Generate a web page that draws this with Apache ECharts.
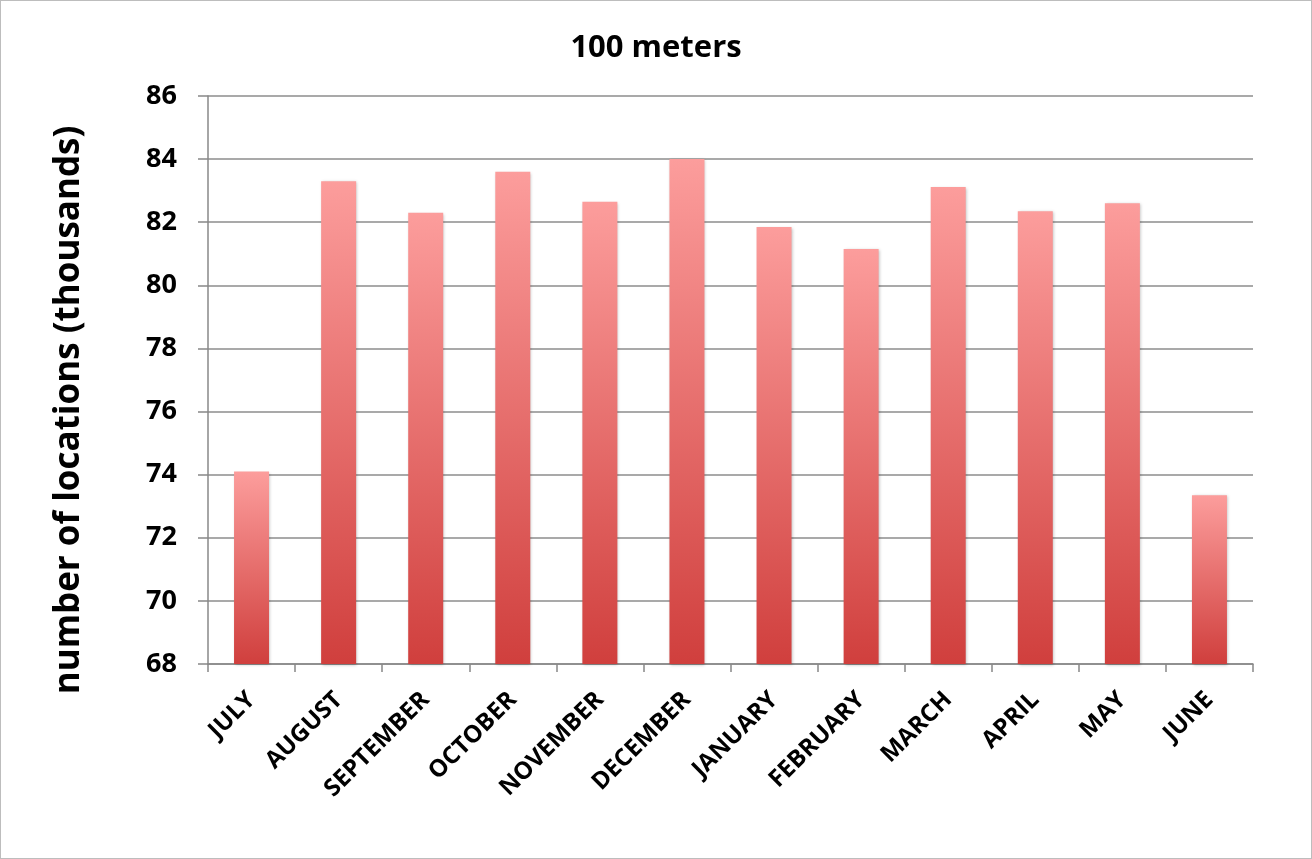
<!DOCTYPE html>
<html><head><meta charset="utf-8">
<script src="https://cdn.jsdelivr.net/npm/echarts@6/dist/echarts.min.js"></script>
<style>html,body{margin:0;padding:0;background:#fff}#c{width:1312px;height:859px;box-sizing:border-box;border:1px solid #bdbdbd}</style>
</head><body><div id="c"></div>
<script>
const categories = ['JULY','AUGUST','SEPTEMBER','OCTOBER','NOVEMBER','DECEMBER','JANUARY','FEBRUARY','MARCH','APRIL','MAY','JUNE'];
const values = [74.1, 83.3, 82.3, 83.6, 82.65, 84.0, 81.85, 81.15, 83.12, 82.35, 82.6, 73.35];
const yMin = 68, yMax = 86, yStep = 2;
const chart = echarts.init(document.getElementById('c'));
const font = '"Open Sans", "Liberation Sans", sans-serif';
chart.setOption({
  animation: false,
  title: { text: '100 meters', left: 'center', top: 27, textStyle: { fontFamily: font, fontSize: 31, fontWeight: 'bold', color: '#000' } },
  grid: { left: 207, right: 58, top: 95, bottom: 194, containLabel: false },
  xAxis: {
    type: 'category', data: categories,
    axisLine: { lineStyle: { color: '#888', width: 1.5 } },
    axisTick: { show: true, alignWithLabel: false, length: 8, lineStyle: { color: '#888', width: 1.5 } },
    axisLabel: { rotate: 45, interval: 0, margin: 32, fontFamily: font, fontSize: 24, fontWeight: 'bold', color: '#000' }
  },
  yAxis: {
    type: 'value', min: yMin, max: yMax, interval: yStep,
    name: 'number of locations (thousands)', nameLocation: 'middle', nameGap: 121, nameRotate: 90,
    nameTextStyle: { fontFamily: font, fontSize: 35, fontWeight: 'bold', color: '#000', padding: [0, 60, 0, 0] },
    axisLine: { show: true, lineStyle: { color: '#888', width: 1.5 } },
    axisTick: { show: true, length: 10, lineStyle: { color: '#888', width: 1.5 } },
    axisLabel: { margin: 31, fontFamily: font, fontSize: 27, fontWeight: 'bold', color: '#000' },
    splitLine: { show: true, lineStyle: { color: '#8c8c8c', width: 1.5 } }
  },
  series: [{
    type: 'bar', data: values, barWidth: 35,
    itemStyle: {
      color: new echarts.graphic.LinearGradient(0, 0, 0, 1, [
        { offset: 0, color: '#fc9d9c' },
        { offset: 1, color: '#d03f3d' }
      ]),
      shadowColor: 'rgba(0,0,0,0.25)', shadowBlur: 3, shadowOffsetX: 1, shadowOffsetY: 1
    }
  }]
});
</script></body></html>
